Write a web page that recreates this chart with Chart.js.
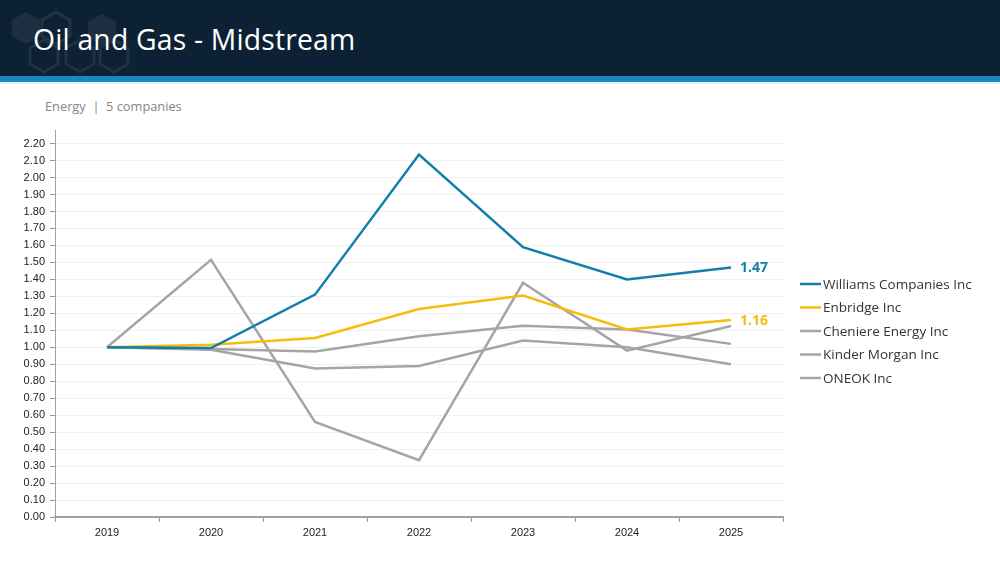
<!DOCTYPE html>
<html>
<head>
<meta charset="utf-8">
<script src="https://cdn.jsdelivr.net/npm/chart.js@4.4.1/dist/chart.umd.min.js"></script>
<style>
  html, body { margin:0; padding:0; background:#fff; width:1000px; height:562px; overflow:hidden; }
  #header { position:absolute; left:0; top:0; width:1000px; height:76px; background:#0c2234; }
  #stripe { position:absolute; left:0; top:76px; width:1000px; height:6px; background:#1789bd; }
  #stripe2 { position:absolute; left:0; top:82px; width:1000px; height:2px; background:#e6f1f7; }
  #title { position:absolute; left:33px; top:20px; color:#fff; font-family:"Open Sans","Noto Sans",sans-serif; font-size:28.3px; font-weight:500; letter-spacing:0.2px; }
  #sub { position:absolute; left:45px; top:97px; color:#858585; font-family:"Open Sans","Noto Sans",sans-serif; font-size:12.8px; font-weight:500; }
  #hex { position:absolute; left:0; top:0; }
  #c { position:absolute; left:0; top:0; }
</style>
</head>
<body>
<div id="header"></div>
<svg id="hex" width="160" height="76">
  <g fill="none" stroke="#223445" stroke-width="3" opacity="0.9">
    <polygon points="12,20 26,12 40,20 40,36 26,44 12,36" fill="#1f3142" stroke="none"/>
    <polygon points="42,20 56,12 70,20 70,36 56,44 42,36"/>
    <polygon points="88,22 102,14 116,22 116,38 102,46 88,38" fill="#1f3142" stroke="none"/>
    <polygon points="30,48 44,40 58,48 58,64 44,72 30,64"/>
    <polygon points="66,48 80,40 94,48 94,64 80,72 66,64"/>
    <polygon points="100,48 114,40 128,48 128,64 114,72 100,64"/>
  </g>
</svg>
<div id="stripe"></div>
<div id="stripe2"></div>
<div id="title">Oil and Gas - Midstream</div>
<div id="sub">Energy&nbsp; | &nbsp;5 companies</div>
<canvas id="c" width="1000" height="562"></canvas>
<script>
const categories = ['2019','2020','2021','2022','2023','2024','2025'];
const williams = [1.00, 0.995, 1.31, 2.135, 1.59, 1.40, 1.47];
const enbridge = [1.00, 1.015, 1.055, 1.225, 1.305, 1.105, 1.16];
const cheniere = [1.00, 1.515, 0.56, 0.335, 1.38, 0.98, 1.125];
const kinderMorgan = [1.00, 0.99, 0.975, 1.065, 1.127, 1.105, 1.02];
const oneok = [1.00, 0.985, 0.875, 0.89, 1.04, 1.00, 0.90];
const seriesNames = ['Williams Companies Inc','Enbridge Inc','Cheniere Energy Inc','Kinder Morgan Inc','ONEOK Inc'];
const endLabels = ['1.47','1.16',null,null,null];

const BLUE = '#127fab', YELLOW = '#f5bd0c', GRAY = '#a5a5a5';
const colors = [BLUE, YELLOW, GRAY, GRAY, GRAY];
const values = [williams, enbridge, cheniere, kinderMorgan, oneok];

const datasets = values.map((v,i)=>({
  label: seriesNames[i], data: v, borderColor: colors[i], backgroundColor: colors[i],
  borderWidth: 2.5, pointRadius: 0, tension: 0, fill:false,
  endLabel: endLabels[i]
}));

const FONT = '"Open Sans","Noto Sans",sans-serif';

const extras = {
  id:'extras',
  afterDatasetsDraw(chart){
    const ctx = chart.ctx;
    ctx.save();
    chart.data.datasets.forEach((ds,i)=>{
      if(!ds.endLabel) return;
      const meta = chart.getDatasetMeta(i);
      const p = meta.data[meta.data.length-1];
      ctx.font = 'bold 14px ' + FONT;
      ctx.fillStyle = ds.borderColor;
      ctx.textAlign='left'; ctx.textBaseline='middle';
      ctx.fillText(ds.endLabel, p.x + 9, p.y + 1);
    });
    const lx = 800, ly0 = 284, dy = 23.5;
    chart.data.datasets.forEach((ds,i)=>{
      const y = ly0 + i*dy;
      ctx.strokeStyle = ds.borderColor; ctx.lineWidth = 2.5;
      ctx.beginPath(); ctx.moveTo(lx, y); ctx.lineTo(lx+21, y); ctx.stroke();
      ctx.font = '13.5px ' + FONT; ctx.fillStyle = '#333';
      ctx.textAlign='left'; ctx.textBaseline='middle';
      ctx.fillText(ds.label, lx+23, y+1);
    });
    ctx.restore();
  }
};

new Chart(document.getElementById('c'), {
  type:'line',
  data:{ labels: categories, datasets },
  plugins:[extras],
  options:{
    responsive:false, animation:false,
    layout:{ padding:{ top:130, right:217, left:0, bottom:0 } },
    plugins:{ legend:{display:false}, tooltip:{enabled:false} },
    scales:{
      x:{
        offset:true,
        grid:{ display:true, offset:true, drawOnChartArea:false, drawTicks:true, tickLength:5, tickColor:'#9a9a9a', lineWidth:1 },
        border:{ display:true, color:'#a0a0a0', width:2 },
        ticks:{ color:'#222', font:{ family:'"Liberation Sans", Arial, sans-serif', size:11 }, padding:4, maxRotation:0 },
        afterFit(s){ s.height = 45; }
      },
      y:{
        min:0, max:2.28,
        grid:{ color:'#f0f0f0', lineWidth:1, drawTicks:true, tickLength:5, tickColor:'#9a9a9a' },
        border:{ display:true, color:'#a0a0a0', width:1 },
        ticks:{ stepSize:0.1, color:'#222', font:{ family:'"Liberation Sans", Arial, sans-serif', size:11 }, padding:5,
          callback:(v)=> v.toFixed(2) },
        afterBuildTicks(s){ s.ticks = s.ticks.filter(t => Math.abs(t.value*10 - Math.round(t.value*10)) < 1e-6); },
        afterFit(s){ s.width = 55; }
      }
    }
  }
});
</script>
</body>
</html>
